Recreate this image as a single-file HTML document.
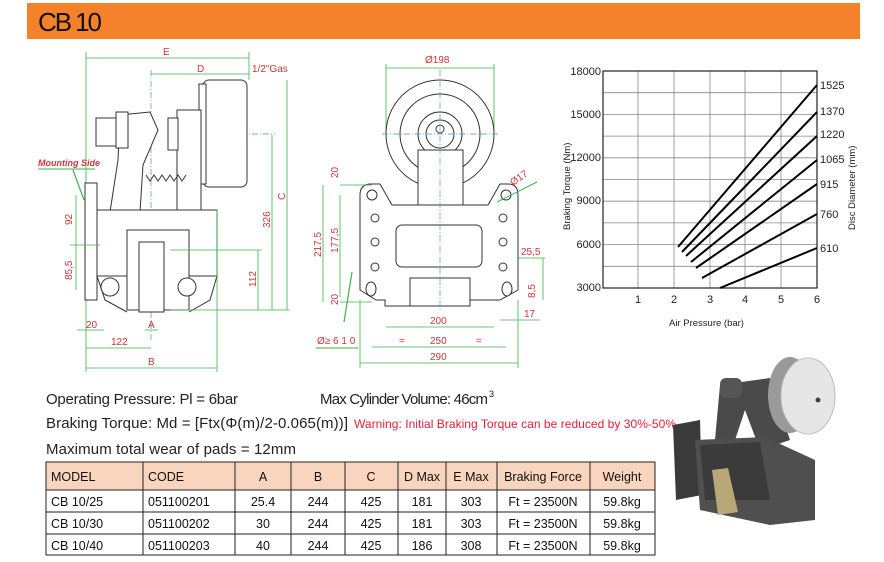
<!DOCTYPE html>
<html><head><meta charset="utf-8"><style>
html,body{margin:0;padding:0;background:#fff}
svg{display:block;font-family:"Liberation Sans",sans-serif}
.g{stroke:#3ab54a;stroke-width:0.8;fill:none}
.r{fill:#d0343c;font-size:10px}
.k{stroke:#333;stroke-width:1;fill:#fff}
.b{stroke:#4a90c8;stroke-width:0.7;stroke-dasharray:6 2 1 2;fill:none}
.t{font-size:15px;fill:#222}
.tc{font-size:12.5px;fill:#111}
</style></head><body>
<svg width="884" height="562" viewBox="0 0 884 562" xmlns="http://www.w3.org/2000/svg">
<rect x="27" y="3" width="833" height="36" fill="#f5822a"/>
<text x="38" y="31" font-size="26" fill="#111" textLength="64">CB 10</text>

<!-- Side view -->
<g>
<line class="g" x1="86" y1="58" x2="249" y2="58"/><text class="r" x="163" y="55">E</text>
<line class="g" x1="151" y1="74" x2="249" y2="74"/><text class="r" x="197" y="72">D</text>
<text class="r" x="252" y="72">1/2"Gas</text>
<line class="g" x1="86" y1="52" x2="86" y2="372"/>
<line class="g" x1="249" y1="52" x2="249" y2="80"/>
<line class="b" x1="151" y1="70" x2="151" y2="340"/>
<line class="b" x1="175" y1="134" x2="275" y2="134"/>
<rect class="k" x="203" y="80" width="44" height="107" rx="6"/>
<rect class="k" x="199" y="84" width="7" height="100"/>
<rect class="k" x="177" y="110" width="24" height="100"/>
<rect class="k" x="168" y="118" width="10" height="32"/>
<polygon class="k" points="120,115 150,112 158,130 143,165 140,212 110,212 118,160"/>
<rect class="k" x="96" y="118" width="20" height="28"/>
<rect class="k" x="116" y="112" width="12" height="36"/>
<path d="M146 175 l4 6 l4 -6 l4 6 l4 -6 l4 6 l4 -6 l4 6 l4 -6 l4 6 l4 -6" stroke="#333" fill="none"/>
<rect class="k" x="85" y="183" width="12" height="117"/>
<rect class="k" x="97" y="210" width="120" height="66"/>
<rect class="k" x="127" y="230" width="62" height="80"/>
<rect class="k" x="139" y="242" width="25" height="70"/>
<circle class="k" cx="110" cy="287" r="9"/><circle class="k" cx="187" cy="287" r="9"/>
<path d="M97 276 L105 300 L127 312 M217 276 L210 300 L189 312" stroke="#333" fill="none"/>
<text x="38" y="166" font-size="9" font-style="italic" font-weight="bold" fill="#d0343c">Mounting Side</text>
<line x1="38" y1="169" x2="95" y2="169" stroke="#3ab54a"/>
<line x1="73" y1="170" x2="84" y2="200" stroke="#3ab54a" stroke-width="1.2"/>
<line class="g" x1="76" y1="195" x2="76" y2="290"/>
<line class="g" x1="70" y1="245" x2="100" y2="245"/>
<text class="r" transform="translate(72,225) rotate(-90)">92</text>
<text class="r" transform="translate(72,280) rotate(-90)">85,5</text>
<line class="g" x1="258" y1="250" x2="258" y2="310"/><text class="r" transform="translate(256,287) rotate(-90)">112</text>
<line class="g" x1="272" y1="135" x2="272" y2="310"/><text class="r" transform="translate(270,228) rotate(-90)">326</text>
<line class="g" x1="287" y1="80" x2="287" y2="310"/><text class="r" transform="translate(285,200) rotate(-90)">C</text>
<line class="g" x1="170" y1="250" x2="262" y2="250"/><line class="g" x1="170" y1="310" x2="290" y2="310"/>
<line class="g" x1="217" y1="210" x2="217" y2="372"/>
<line class="g" x1="77" y1="330" x2="104" y2="330"/><text class="r" x="86" y="328">20</text>
<line class="g" x1="145" y1="330" x2="158" y2="330"/><text class="r" x="148" y="328">A</text>
<line class="g" x1="86" y1="348" x2="151" y2="348"/><text class="r" x="111" y="345">122</text>
<line class="g" x1="86" y1="368" x2="217" y2="368"/><text class="r" x="148" y="365">B</text>
</g>

<!-- Front view -->
<g>
<line class="g" x1="386" y1="68" x2="494" y2="68"/><text class="r" x="425" y="63">Ø198</text>
<line class="g" x1="386" y1="64" x2="386" y2="134"/><line class="g" x1="494" y1="64" x2="494" y2="134"/>
<circle class="k" cx="440" cy="134" r="54"/><circle class="k" cx="440" cy="134" r="40"/>
<circle class="k" cx="440" cy="134" r="22"/><circle class="k" cx="440" cy="134" r="14"/><circle class="k" cx="440" cy="129" r="4"/>
<rect class="k" x="418" y="150" width="45" height="60"/>
<path class="k" d="M360 195 Q360 184 371 184 L380 184 L392 205 L488 205 L500 184 L508 184 Q518 184 518 195 L518 290 L500 300 L470 300 L470 306 L385 306 L385 300 L376 300 L360 290 Z"/>
<rect class="k" x="396" y="225" width="86" height="42" rx="6"/>
<rect class="k" x="410" y="278" width="60" height="28"/>
<g fill="#fff" stroke="#333">
<circle cx="372" cy="195" r="5"/><circle cx="506" cy="195" r="5"/>
<circle cx="375" cy="218" r="4"/><circle cx="375" cy="242" r="4"/><circle cx="375" cy="267" r="4"/>
<circle cx="503" cy="218" r="4"/><circle cx="503" cy="242" r="4"/><circle cx="503" cy="267" r="4"/>
<ellipse cx="371" cy="289" rx="5" ry="7"/><ellipse cx="507" cy="289" rx="5" ry="7"/>
</g>
<line class="b" x1="440" y1="70" x2="440" y2="310"/><line class="b" x1="382" y1="134" x2="498" y2="134"/>
<line class="g" x1="340" y1="185" x2="372" y2="185"/><line class="g" x1="340" y1="302" x2="372" y2="302"/>
<line class="g" x1="323" y1="185" x2="323" y2="302"/><text class="r" transform="translate(321,257) rotate(-90)">217,5</text>
<line class="g" x1="340" y1="195" x2="340" y2="297"/><text class="r" transform="translate(338,253) rotate(-90)">177,5</text>
<text class="r" transform="translate(338,178) rotate(-90)">20</text><text class="r" transform="translate(338,305) rotate(-90)">20</text>
<line class="g" x1="386" y1="327" x2="494" y2="327"/><text class="r" x="430" y="324">200</text>
<line class="g" x1="372" y1="347" x2="506" y2="347"/><text class="r" x="430" y="344">250</text>
<text class="r" x="399" y="344">=</text><text class="r" x="476" y="344">=</text>
<line class="g" x1="360" y1="363" x2="518" y2="363"/><text class="r" x="430" y="360">290</text>
<line class="g" x1="360" y1="300" x2="360" y2="368"/><line class="g" x1="518" y1="300" x2="518" y2="368"/>
<text class="r" x="317" y="344">Ø≥ 6 1 0</text><line x1="316" y1="348" x2="358" y2="348" stroke="#3ab54a"/>
<line x1="344" y1="322" x2="352" y2="272" stroke="#3ab54a" stroke-width="1.2"/>
<text class="r" transform="translate(513,186) rotate(-35)">Ø17</text>
<line x1="497" y1="202" x2="537" y2="182" stroke="#3ab54a"/>
<text class="r" x="521" y="255">25,5</text><line class="g" x1="518" y1="258" x2="545" y2="258"/>
<line class="g" x1="543" y1="258" x2="543" y2="300"/>
<text class="r" transform="translate(535,298) rotate(-90)">8,5</text>
<text class="r" x="524" y="317">17</text><line class="g" x1="500" y1="320" x2="540" y2="320"/>
</g>

<!-- Chart -->
<g stroke="#888" stroke-width="0.8">
<line x1="638" y1="71" x2="638" y2="288"/><line x1="674" y1="71" x2="674" y2="288"/><line x1="710" y1="71" x2="710" y2="288"/>
<line x1="745" y1="71" x2="745" y2="288"/><line x1="781" y1="71" x2="781" y2="288"/>
<line x1="603" y1="92.7" x2="817" y2="92.7"/><line x1="603" y1="114.4" x2="817" y2="114.4"/><line x1="603" y1="136.1" x2="817" y2="136.1"/>
<line x1="603" y1="157.8" x2="817" y2="157.8"/><line x1="603" y1="179.5" x2="817" y2="179.5"/><line x1="603" y1="201.2" x2="817" y2="201.2"/>
<line x1="603" y1="222.9" x2="817" y2="222.9"/><line x1="603" y1="244.6" x2="817" y2="244.6"/><line x1="603" y1="266.3" x2="817" y2="266.3"/>
</g>
<rect x="603" y="71" width="214" height="217" fill="none" stroke="#222" stroke-width="1.2"/>
<g stroke="#000" stroke-width="2">
<line x1="678" y1="247" x2="817" y2="85"/><line x1="682" y1="252" x2="817" y2="112"/><line x1="686" y1="256" x2="817" y2="136"/>
<line x1="691" y1="262" x2="817" y2="160"/><line x1="696" y1="268" x2="817" y2="184"/><line x1="702" y1="278" x2="817" y2="214"/>
<line x1="720" y1="288" x2="817" y2="248"/>
</g>
<g font-size="11" fill="#222" text-anchor="end">
<text x="601" y="75">18000</text><text x="601" y="118">15000</text><text x="601" y="161">12000</text>
<text x="601" y="204">9000</text><text x="601" y="248">6000</text><text x="601" y="291">3000</text>
</g>
<g font-size="11" fill="#222" text-anchor="middle">
<text x="638" y="303">1</text><text x="674" y="303">2</text><text x="710" y="303">3</text>
<text x="745" y="303">4</text><text x="781" y="303">5</text><text x="817" y="303">6</text>
</g>
<g font-size="11" fill="#222">
<text x="820" y="89">1525</text><text x="820" y="115">1370</text><text x="820" y="138">1220</text>
<text x="820" y="163">1065</text><text x="820" y="188">915</text><text x="820" y="218">760</text><text x="820" y="252">610</text>
</g>
<text x="669" y="326" font-size="9.5" fill="#222">Air Pressure (bar)</text>
<text transform="translate(570,230) rotate(-90)" font-size="9.5" fill="#222">Braking Torque (Nm)</text>
<text transform="translate(855,230) rotate(-90)" font-size="9.5" fill="#222">Disc Diameter (mm)</text>

<!-- Text -->
<text class="t" x="46" y="404" textLength="192">Operating Pressure: Pl = 6bar</text>
<text class="t" x="320" y="404" textLength="168">Max Cylinder Volume: 46cm</text><text x="489" y="397" font-size="9" fill="#222">3</text>
<text class="t" x="46" y="428" textLength="302">Braking Torque: Md = [Ftx(Φ(m)/2-0.065(m))]</text>
<text x="354" y="428" font-size="12" fill="#e0203a" textLength="322">Warning: Initial Braking Torque can be reduced by 30%-50%</text>
<text class="t" x="46" y="454" textLength="250">Maximum total wear of pads = 12mm</text>

<!-- Table -->
<rect x="46" y="462" width="609" height="28" fill="#fad5bd"/>
<g stroke="#222" stroke-width="1" fill="none">
<rect x="46" y="462" width="609" height="93"/>
<line x1="46" y1="490" x2="655" y2="490"/><line x1="46" y1="512" x2="655" y2="512"/><line x1="46" y1="534" x2="655" y2="534"/>
<line x1="143" y1="462" x2="143" y2="555"/><line x1="235" y1="462" x2="235" y2="555"/><line x1="291" y1="462" x2="291" y2="555"/>
<line x1="345" y1="462" x2="345" y2="555"/><line x1="398" y1="462" x2="398" y2="555"/><line x1="446" y1="462" x2="446" y2="555"/>
<line x1="497" y1="462" x2="497" y2="555"/><line x1="590" y1="462" x2="590" y2="555"/>
</g>
<g class="tc" font-size="12.5" fill="#111">
<text x="51" y="481">MODEL</text><text x="148" y="481">CODE</text>
<text x="51" y="506">CB 10/25</text><text x="148" y="506">051100201</text>
<text x="51" y="528">CB 10/30</text><text x="148" y="528">051100202</text>
<text x="51" y="550">CB 10/40</text><text x="148" y="550">051100203</text>
</g>
<g font-size="12.5" fill="#111" text-anchor="middle">
<text x="263" y="481">A</text><text x="318" y="481">B</text><text x="371" y="481">C</text><text x="422" y="481">D Max</text><text x="471" y="481">E Max</text><text x="543" y="481">Braking Force</text><text x="622" y="481">Weight</text>
<text x="263" y="506">25.4</text><text x="318" y="506">244</text><text x="371" y="506">425</text><text x="422" y="506">181</text><text x="471" y="506">303</text><text x="543" y="506">Ft = 23500N</text><text x="622" y="506">59.8kg</text>
<text x="263" y="528">30</text><text x="318" y="528">244</text><text x="371" y="528">425</text><text x="422" y="528">181</text><text x="471" y="528">303</text><text x="543" y="528">Ft = 23500N</text><text x="622" y="528">59.8kg</text>
<text x="263" y="550">40</text><text x="318" y="550">244</text><text x="371" y="550">425</text><text x="422" y="550">186</text><text x="471" y="550">308</text><text x="543" y="550">Ft = 23500N</text><text x="622" y="550">59.8kg</text>
</g>

<!-- Photo -->
<g>
<polygon points="720,385 770,378 790,440 760,450 745,410 735,440 715,440" fill="#4a4a4a"/>
<rect x="720" y="378" width="22" height="20" rx="6" fill="#555"/>
<polygon points="673,425 700,420 702,495 676,500" fill="#3a3a3a"/>
<polygon points="695,440 765,437 815,460 815,520 770,525 700,510" fill="#4f4f4f"/>
<polygon points="700,445 760,442 770,500 705,500" fill="#3b3b3b"/>
<polygon points="712,470 728,468 738,512 718,515" fill="#b8a878"/>
<ellipse cx="790" cy="395" rx="22" ry="38" fill="#9a9a9a"/>
<ellipse cx="808" cy="396" rx="27" ry="38" fill="#e6e6e6" stroke="#bbb"/>
<circle cx="818" cy="400" r="2.5" fill="#444"/>
</g>
</svg>
</body></html>
